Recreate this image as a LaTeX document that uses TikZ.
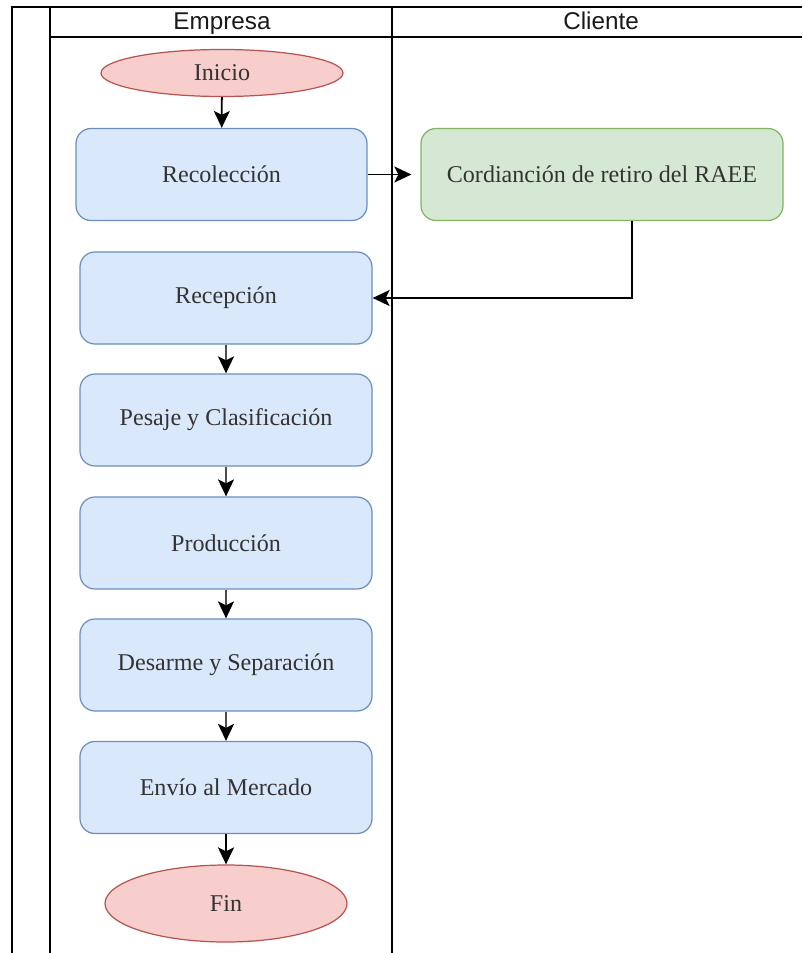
\documentclass[tikz,border=0pt]{standalone}
\usepackage{fontspec}
\setmainfont{Liberation Serif}
\setsansfont{Liberation Sans}
\usepackage{tikz}
\usetikzlibrary{arrows.meta,shapes.geometric}

\definecolor{azulrelleno}{HTML}{DAE8FC}
\definecolor{azulborde}{HTML}{6C8EBF}
\definecolor{verderelleno}{HTML}{D5E8D4}
\definecolor{verdeborde}{HTML}{82B366}
\definecolor{rojorelleno}{HTML}{F8CECC}
\definecolor{rojoborde}{HTML}{B85450}
\definecolor{texto}{HTML}{333333}

\begin{document}
\begin{tikzpicture}[
    proceso/.style={draw=azulborde, fill=azulrelleno, rounded corners=0.3cm,
      line width=0.7pt, minimum width=5.84cm, minimum height=1.84cm, text=texto,
      font=\fontsize{13.7}{16}\selectfont},
    cliente/.style={proceso, draw=verdeborde, fill=verderelleno, minimum width=7.24cm},
    terminal/.style={ellipse, draw=rojoborde, fill=rojorelleno, inner sep=0pt,
      line width=0.7pt, minimum width=4.84cm, text=texto,
      font=\fontsize{13.7}{16}\selectfont},
    carril/.style={font=\sffamily\fontsize{13.8}{16}\selectfont, text=black!90,
      text height=1.6ex, text depth=0.45ex},
    flecha/.style={-{Stealth[length=3.4mm,width=3.2mm,inset=0.8mm,black]},
      line width=1pt, black!70}
  ]
    \useasboundingbox (0,0) rectangle (16.04,-19.06);
    % marco de los carriles
    \draw [line width=0.9pt] (0.24,-19.06) -- (0.24,-0.14) -- (16.04,-0.14);
    \draw [line width=0.9pt] (1.0,-19.06) -- (1.0,-0.14);
    \draw [line width=0.9pt] (7.84,-19.06) -- (7.84,-0.14);
    \draw [line width=0.9pt] (1.0,-0.74) -- (16.04,-0.74);
    \node [carril] (empresa) at (4.44,-0.5) {Empresa};
    \node [carril] (clientelbl) at (12.02,-0.5) {Cliente};
    % nodos
    \node [terminal, minimum height=0.94cm] (inicio) at (4.44,-1.46) {Inicio};
    \node [proceso, minimum width=5.82cm] (recoleccion) at (4.43,-3.49) {Recolección};
    \node [cliente] (cordinacion) at (12.04,-3.49) {Cordianción de retiro del RAEE};
    \node [proceso] (recepcion) at (4.52,-5.96) {Recepción};
    \node [proceso] (pesaje) at (4.52,-8.40) {Pesaje y Clasificación};
    \node [proceso] (produccion) at (4.52,-10.86) {Producción};
    \node [proceso] (desarme) at (4.52,-13.30) {Desarme y Separación};
    \node [proceso] (envio) at (4.52,-15.75) {Envío al Mercado};
    \node [terminal, minimum height=1.54cm] (fin) at (4.52,-18.07) {Fin};
    % conectores
    \draw [flecha, black] (inicio) -- (recoleccion);
    \draw [flecha, black] (recoleccion) -- ([xshift=-0.18cm]cordinacion.west);
    \draw [flecha, black] (cordinacion.south -| 12.64,0) |- (recepcion.east);
    \draw [flecha] (recepcion) -- (pesaje);
    \draw [flecha] (pesaje) -- (produccion);
    \draw [flecha] (produccion) -- (desarme);
    \draw [flecha] (desarme) -- (envio);
    \draw [flecha, black, line width=1.6pt] (envio) -- (fin);
\end{tikzpicture}
\end{document}
